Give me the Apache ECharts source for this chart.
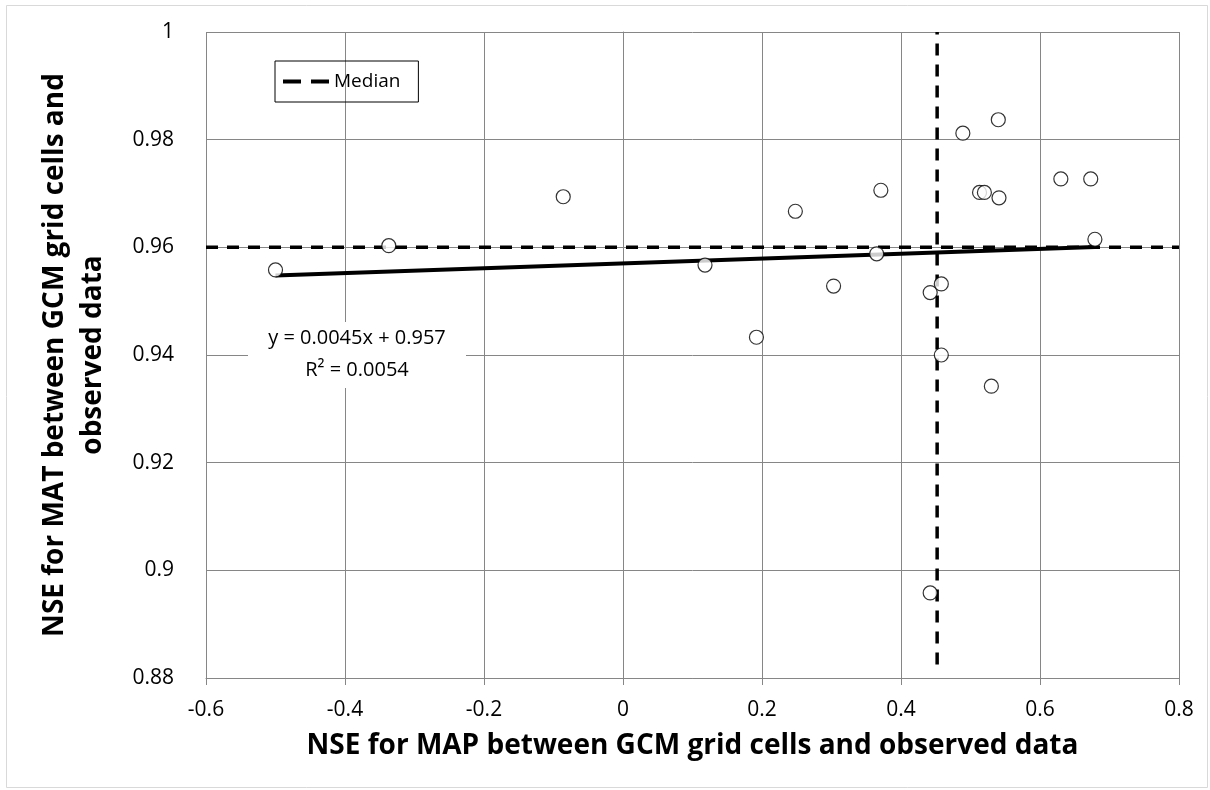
<!DOCTYPE html>
<html>
<head>
<meta charset="utf-8">
<script src="https://cdn.jsdelivr.net/npm/echarts@6/dist/echarts.min.js"></script>
<style>
  html, body { margin: 0; padding: 0; background: #fff; }
  #main { width: 1210px; height: 790px; }
</style>
</head>
<body>
<div id="main"></div>
<script>
// NSE values
var mapNse = [-0.500, -0.337, -0.086, 0.118, 0.192, 0.248, 0.303, 0.365, 0.371, 0.442, 0.442, 0.458, 0.458, 0.489, 0.513, 0.520, 0.530, 0.541, 0.540, 0.630, 0.673, 0.679];
var matNse = [0.9558, 0.9603, 0.9694, 0.9567, 0.9433, 0.9667, 0.9528, 0.9588, 0.9706, 0.8958, 0.9516, 0.9532, 0.9400, 0.9812, 0.9702, 0.9702, 0.9342, 0.9692, 0.9837, 0.9727, 0.9727, 0.9615];

var medianX = 0.452;
var medianY = 0.96;
var vLineY = [0.8825, 1];
var hLineX = [-0.6, 0.8];

var slope = 0.0045, intercept = 0.957;
var trendX = [-0.5, 0.679];

var xTicks = [-0.6, -0.4, -0.2, 0, 0.2, 0.4, 0.6, 0.8];
var yTicks = [0.88, 0.9, 0.92, 0.94, 0.96, 0.98, 1];

var font = '"Open Sans", Lato, sans-serif';

var points = mapNse.map(function (x, i) { return [x, matNse[i]]; });
var trend = trendX.map(function (x) { return [x, slope * x + intercept]; });

var myChart = echarts.init(document.getElementById('main'));
var option = {
  backgroundColor: '#fff',
  animation: false,
  textStyle: { fontFamily: font },
  grid: { left: 206, right: 31, top: 32, bottom: 112 },
  legend: {
    left: 275, top: 61,
    data: [{ name: 'Median', icon: 'path://M0,0H18V4H0Z M28,0H46V4H28Z' }],
    itemWidth: 46, itemHeight: 6, itemGap: 6,
    itemStyle: { color: '#000', borderWidth: 0 },
    padding: [11, 18, 11, 8],
    borderColor: '#000', borderWidth: 1,
    textStyle: { fontSize: 19, color: '#000', fontFamily: font }
  },
  xAxis: {
    type: 'value', min: -0.6, max: 0.8, interval: 0.2,
    name: 'NSE for MAP between GCM grid cells and observed data',
    nameLocation: 'middle', nameGap: 54,
    nameTextStyle: { fontSize: 28, fontWeight: 'bold', color: '#000', fontFamily: font },
    axisLine: { show: true, onZero: false, lineStyle: { color: '#868686' } },
    axisTick: { show: true, length: 7, lineStyle: { color: '#868686' } },
    axisLabel: { fontSize: 21, color: '#000', margin: 22,
      formatter: function (v) { return String(Math.round(v * 10) / 10); } },
    splitLine: { show: true, lineStyle: { color: '#868686', width: 1 } }
  },
  yAxis: {
    type: 'value', min: 0.88, max: 1, interval: 0.02,
    name: 'NSE for MAT between GCM grid cells and\nobserved data',
    nameLocation: 'middle', nameGap: 94, nameRotate: 90,
    nameTextStyle: { fontSize: 28, fontWeight: 'bold', color: '#000', lineHeight: 38, fontFamily: font },
    axisLine: { show: true, lineStyle: { color: '#868686' } },
    axisTick: { show: true, length: 7, lineStyle: { color: '#868686' } },
    axisLabel: { fontSize: 21, color: '#000', margin: 32,
      formatter: function (v) { return String(Math.round(v * 100) / 100); } },
    splitLine: { show: true, lineStyle: { color: '#868686', width: 1 } }
  },
  series: [
    {
      name: 'Median', type: 'line',
      data: hLineX.map(function (x) { return [x, medianY]; }),
      symbol: 'none',
      itemStyle: { color: '#000' },
      lineStyle: { color: '#000', width: 3.5, type: [12, 9] },
      z: 3
    },
    {
      name: 'Median', type: 'line',
      data: vLineY.map(function (y) { return [medianX, y]; }),
      symbol: 'none',
      itemStyle: { color: '#000' },
      lineStyle: { color: '#000', width: 3.5, type: [12, 9] },
      z: 3
    },
    {
      name: 'Trend', type: 'line',
      data: trend,
      symbol: 'none',
      lineStyle: { color: '#000', width: 4 },
      z: 4
    },
    {
      name: 'NSE', type: 'scatter',
      data: points,
      symbol: 'circle', symbolSize: 14,
      itemStyle: { color: '#fff', borderColor: '#000', borderWidth: 1.2 },
      z: 5
    }
  ],
  graphic: [
    {
      type: 'rect', left: 4, top: 3, z: -10, silent: true,
      shape: { width: 1201, height: 782 },
      style: { fill: 'none', stroke: '#d9d9d9', lineWidth: 1 }
    },
    {
      type: 'rect', x: 248, y: 322, z: 10, silent: true,
      shape: { width: 218, height: 66 },
      style: { fill: '#fff' }
    },
    {
      type: 'text', x: 357, y: 322, z: 11,
      style: {
        text: 'y = 0.0045x + 0.957\nR² = 0.0054',
        font: '20px ' + font, fill: '#000', align: 'center', verticalAlign: 'top',
        lineHeight: 32
      }
    }
  ]
};
myChart.setOption(option);
</script>
</body>
</html>
